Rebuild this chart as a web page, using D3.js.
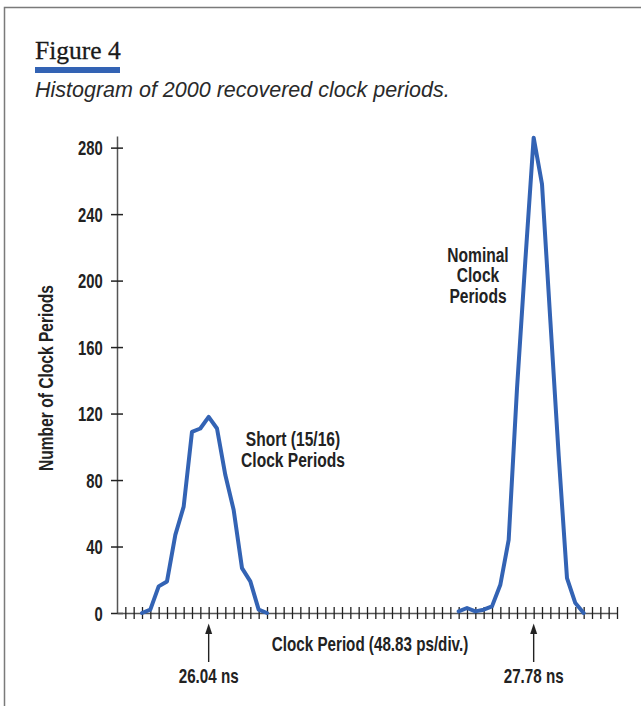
<!DOCTYPE html>
<html>
<head>
<meta charset="utf-8">
<script src="https://cdn.jsdelivr.net/npm/d3@7"></script>
<style>
  body { margin: 0; background: #fff; }
  svg { display: block; }
  .cond { font-family: 'Liberation Sans', Arial, sans-serif; font-weight: bold; fill: #222; }
</style>
</head>
<body>
<div id="chart"></div>
<script>
// division index along the x axis (one tick = one division) and counts per bin
const shortDivs = [3, 4, 5, 6, 7, 8, 9, 10, 11, 12, 13, 14, 15, 16, 17, 18]
const shortCounts = [0, 2, 16, 19, 47, 64, 109, 111, 118, 111, 83, 62, 27, 19, 2, 0]

const nominalDivs = [41, 42, 43, 44, 45, 46, 47, 48, 49, 50, 51, 52, 53, 54, 55, 56]
const nominalCounts = [1, 3, 1, 2, 4, 17, 44, 135, 212, 286, 258, 176, 95, 21, 6, 0]

const yTicks = [0, 40, 80, 120, 160, 200, 240, 280]
const markers = [
  { div: 11, label: '26.04 ns' },
  { div: 50, label: '27.78 ns' }
]

const width = 641
const height = 706
// no narrow font installed, so squeeze the bold sans horizontally
const squeeze = 0.76

const svg = d3
  .select('#chart')
  .append('svg')
  .attr('width', width)
  .attr('height', height)

function condText(parent, x, y, size, str, anchor, rotate) {
  return parent
    .append('text')
    .attr('class', 'cond')
    .attr('font-size', size)
    .attr('text-anchor', anchor || 'middle')
    .attr(
      'transform',
      'translate(' + x + ',' + y + ')' +
        (rotate ? ' rotate(' + rotate + ')' : '') +
        ' scale(' + squeeze + ',1)'
    )
    .text(str)
}

// frame
svg
  .append('rect')
  .attr('x', 4.5)
  .attr('y', 7.5)
  .attr('width', 700)
  .attr('height', 760)
  .attr('fill', 'none')
  .attr('stroke', '#7a7a7a')
  .attr('stroke-width', 1.5)

// heading
svg
  .append('text')
  .attr('x', 35)
  .attr('y', 58.5)
  .attr('font-family', "'Liberation Serif', 'Times New Roman', serif")
  .attr('font-size', 25.5)
  .attr('fill', '#1a1a1a')
  .attr('stroke', '#1a1a1a')
  .attr('stroke-width', 0.3)
  .text('Figure 4')

svg
  .append('rect')
  .attr('x', 35)
  .attr('y', 67)
  .attr('width', 85)
  .attr('height', 6)
  .attr('fill', '#3363b4')

svg
  .append('text')
  .attr('x', 35)
  .attr('y', 97)
  .attr('font-family', "'Liberation Sans', Arial, sans-serif")
  .attr('font-style', 'italic')
  .attr('font-size', 21.5)
  .attr('fill', '#2a2a2a')
  .text('Histogram of 2000 recovered clock periods.')

const xScale = d3.scaleLinear().domain([0, 60]).range([117, 617])
const yScale = d3.scaleLinear().domain([0, 287]).range([613, 136])

// y axis, ticks crossing the line
const yAxis = d3
  .axisLeft(yScale)
  .tickValues(yTicks)
  .tickSize(6)
  .tickSizeOuter(0)

const yg = svg
  .append('g')
  .attr('transform', 'translate(' + xScale(0) + ',0)')
  .call(yAxis)

yg.select('.domain').attr('stroke', '#555').attr('stroke-width', 1.5)
yg.selectAll('.tick line')
  .attr('x1', -6)
  .attr('x2', 6)
  .attr('stroke', '#222')
  .attr('stroke-width', 1.5)
yg.selectAll('.tick text')
  .attr('class', 'cond')
  .attr('font-size', 19.5)
  .attr('x', -14.3 / squeeze)
  .attr('dy', '0.36em')
  .attr('transform', 'scale(' + squeeze + ',1)')

// x axis with a tick at every division
const xAxis = d3
  .axisBottom(xScale)
  .tickValues(d3.range(1, 61))
  .tickSize(6)
  .tickSizeOuter(0)
  .tickFormat('')

const xg = svg
  .append('g')
  .attr('transform', 'translate(0,' + yScale(0) + ')')
  .call(xAxis)

xg.select('.domain').attr('stroke', '#555').attr('stroke-width', 1.5)
xg.selectAll('.tick line')
  .attr('y1', -6)
  .attr('y2', 6)
  .attr('stroke', '#222')
  .attr('stroke-width', 1.3)

// axis titles
condText(svg, 53, 378, 20.5, 'Number of Clock Periods', 'middle', -90)
condText(svg, 370, 651, 20, 'Clock Period (48.83 ps/div.)')

// the two histogram humps
const line = d3
  .line()
  .x(d => xScale(d[0]))
  .y(d => yScale(d[1]))

const series = [
  d3.zip(shortDivs, shortCounts),
  d3.zip(nominalDivs, nominalCounts)
]

svg
  .selectAll('.hist')
  .data(series)
  .enter()
  .append('path')
  .attr('class', 'hist')
  .attr('d', line)
  .attr('fill', 'none')
  .attr('stroke', '#3363b4')
  .attr('stroke-width', 4)
  .attr('stroke-linejoin', 'round')
  .attr('stroke-linecap', 'round')

// arrows under the axis
const mk = svg
  .selectAll('.marker')
  .data(markers)
  .enter()
  .append('g')
  .attr('class', 'marker')
  .attr('transform', d => 'translate(' + xScale(d.div) + ',0)')

mk.append('line')
  .attr('x1', 0)
  .attr('x2', 0)
  .attr('y1', 630)
  .attr('y2', 662)
  .attr('stroke', '#222')
  .attr('stroke-width', 1.4)

mk.append('path')
  .attr('d', 'M0,623.5 L-3.5,634 L3.5,634 Z')
  .attr('fill', '#222')

mk.each(function(d) {
  condText(d3.select(this), 0, 683, 20, d.label)
})

// peak notes
const notes = [
  { x: 293, y: 446, lines: ['Short (15/16)', 'Clock Periods'] },
  { x: 478, y: 261.5, lines: ['Nominal', 'Clock', 'Periods'] }
]

notes.forEach(n => {
  n.lines.forEach((s, i) => {
    condText(svg, n.x, n.y + i * 20.7, 20.5, s)
  })
})
</script>
</body>
</html>
